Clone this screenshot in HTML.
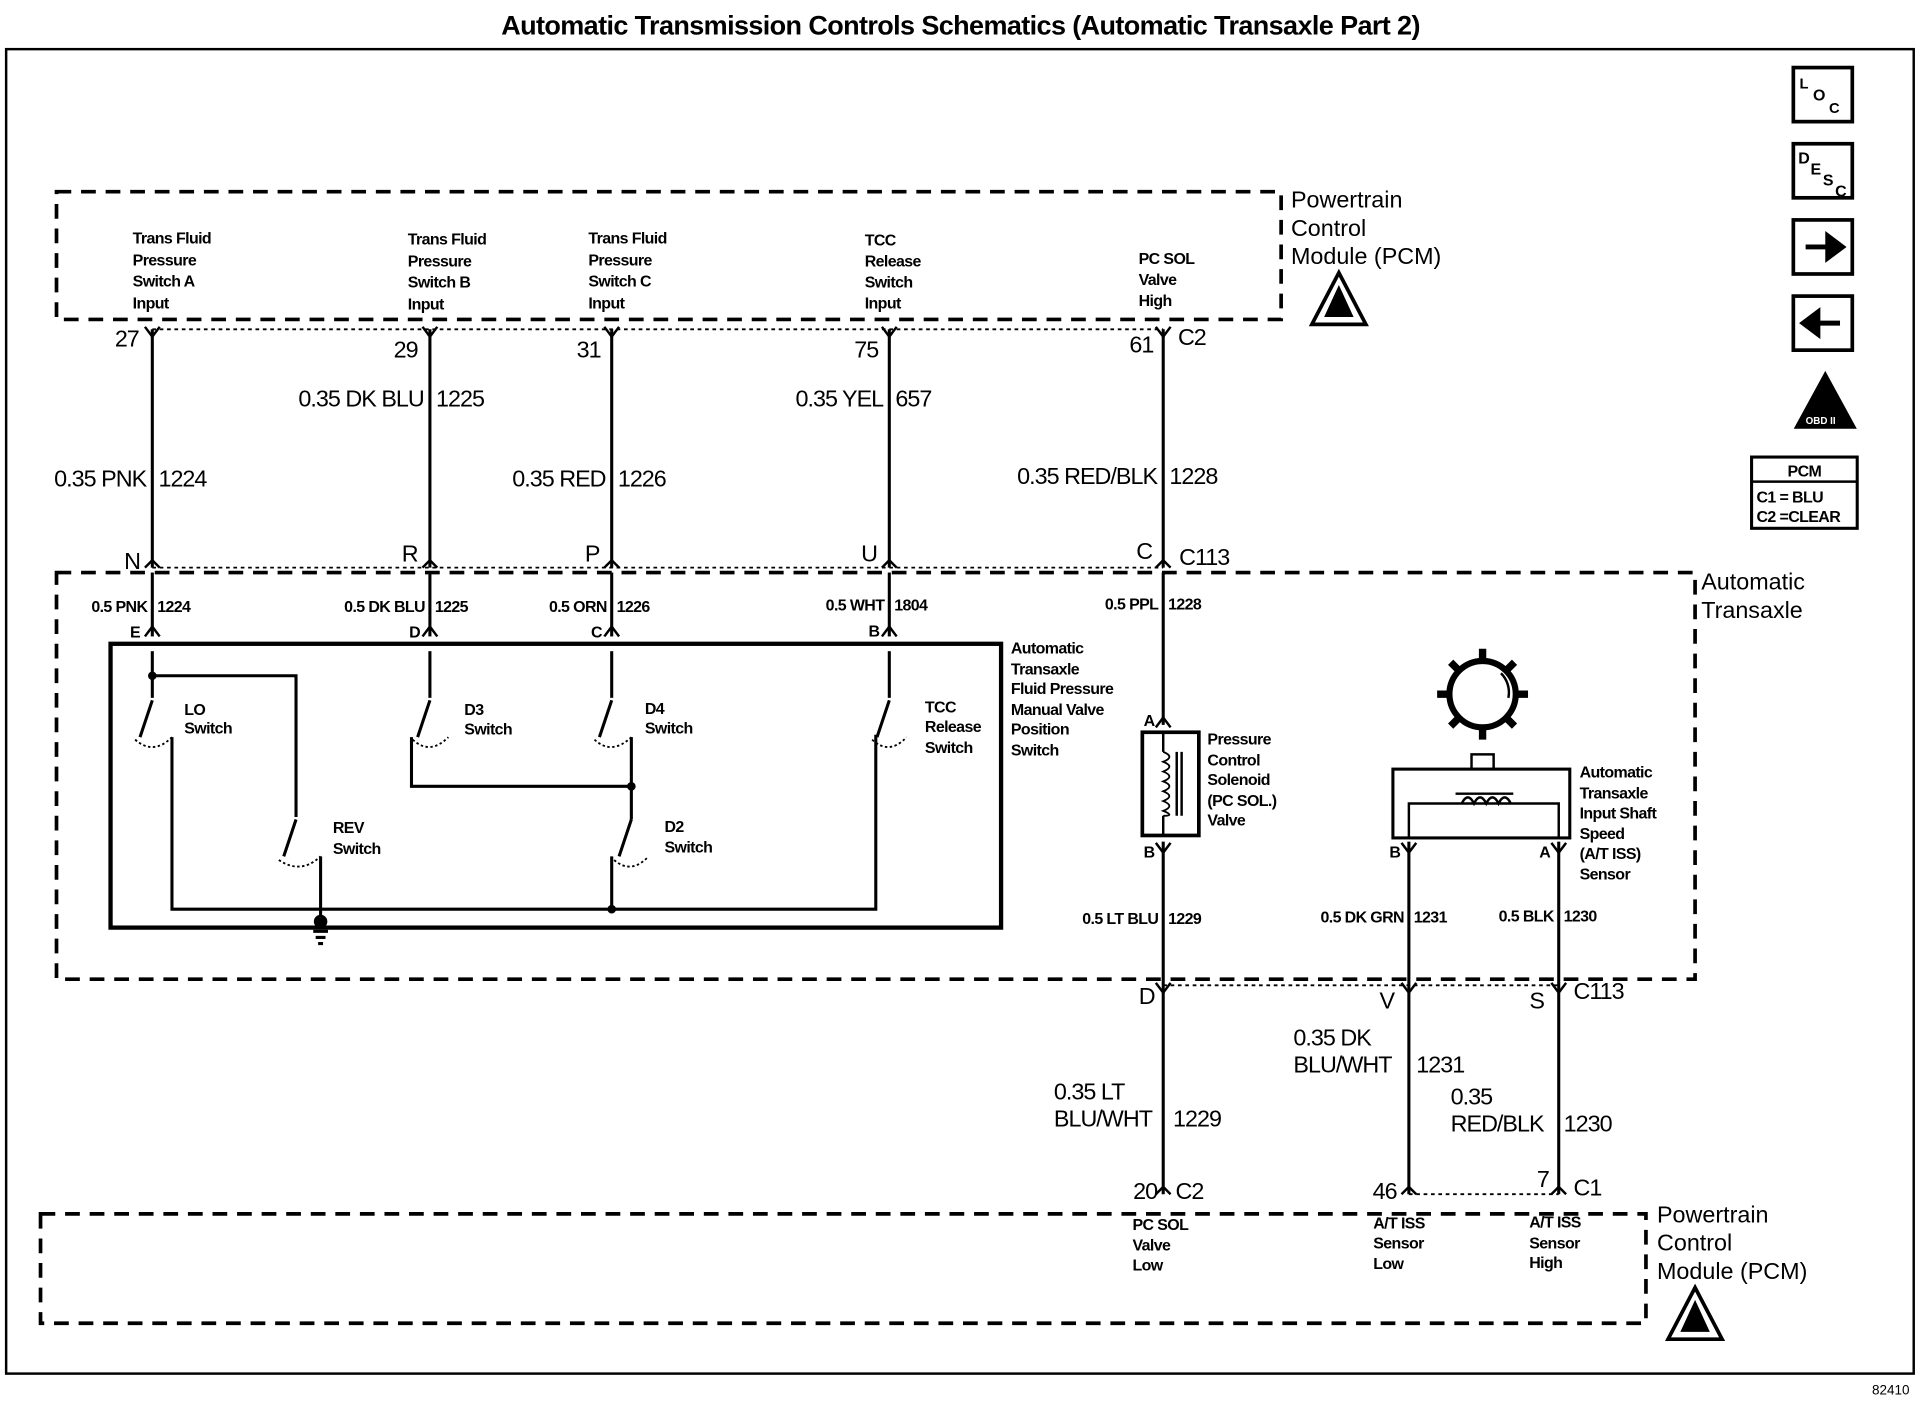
<!DOCTYPE html>
<html><head><meta charset="utf-8"><style>
html,body{margin:0;padding:0;background:#fff}
svg{display:block}
text{font-family:"Liberation Sans",sans-serif;fill:#000}
.s{font-size:13px;font-weight:bold;letter-spacing:-0.5px}
.m{font-size:19px;letter-spacing:-0.8px}
.l{font-size:19px}
</style></head><body>
<svg width="1926" height="1408" viewBox="0 0 1568 1146" preserveAspectRatio="none" xmlns="http://www.w3.org/2000/svg">
<g fill="none" stroke="#000">
<text x="782" y="28" text-anchor="middle" style="font-size:22px;font-weight:bold;letter-spacing:-0.5px" stroke="none">Automatic Transmission Controls Schematics (Automatic Transaxle Part 2)</text>
<rect x="5" y="40" width="1553" height="1078" stroke-width="2"/>
<rect x="46" y="156" width="997" height="104" stroke-width="3" stroke-dasharray="12,8"/>
<rect x="46" y="466" width="1334" height="331" stroke-width="3" stroke-dasharray="12,8"/>
<rect x="33" y="988" width="1307" height="89" stroke-width="3" stroke-dasharray="12,8"/>
<line x1="124" y1="268" x2="947" y2="268" stroke-dasharray="3,3" stroke-width="1.5"/>
<line x1="124" y1="462" x2="947" y2="462" stroke-dasharray="3,3" stroke-width="1.5"/>
<line x1="947" y1="802" x2="1269" y2="802" stroke-dasharray="3,3" stroke-width="1.5"/>
<line x1="1147" y1="972" x2="1269" y2="972" stroke-dasharray="3,3" stroke-width="1.5"/>
<g stroke-width="2.5">
<line x1="124" y1="268" x2="124" y2="462"/>
<line x1="350" y1="268" x2="350" y2="462"/>
<line x1="498" y1="268" x2="498" y2="462"/>
<line x1="724" y1="268" x2="724" y2="462"/>
<line x1="947" y1="268" x2="947" y2="462"/>
<line x1="124" y1="466" x2="124" y2="518"/>
<line x1="350" y1="466" x2="350" y2="518"/>
<line x1="498" y1="466" x2="498" y2="518"/>
<line x1="724" y1="466" x2="724" y2="518"/>
<line x1="947" y1="466" x2="947" y2="590"/>
<line x1="947" y1="685" x2="947" y2="972"/>
<line x1="1147" y1="685" x2="1147" y2="972"/>
<line x1="1269" y1="685" x2="1269" y2="972"/>
</g>
<g stroke-width="2">
<path d="M118 266 L124 274 L130 266 M344 266 L350 274 L356 266 M492 266 L498 274 L504 266 M718 266 L724 274 L730 266 M941 266 L947 274 L953 266"/>
<path d="M118 462 L124 456 L130 462 M344 462 L350 456 L356 462 M492 462 L498 456 L504 462 M718 462 L724 456 L730 462 M941 462 L947 456 L953 462"/>
<path d="M118 518 L124 510 L130 518 M344 518 L350 510 L356 518 M492 518 L498 510 L504 518 M718 518 L724 510 L730 518"/>
<path d="M941 592 L947 584 L953 592 M941 686 L947 694 L953 686 M1141 686 L1147 694 L1153 686 M1263 686 L1269 694 L1275 686"/>
<path d="M941 800 L947 808 L953 800 M1141 800 L1147 808 L1153 800 M1263 800 L1269 808 L1275 800"/>
<path d="M941 972 L947 966 L953 972 M1141 972 L1147 966 L1153 972 M1263 972 L1269 966 L1275 972"/>
</g>
<rect x="90" y="524" width="725" height="231" stroke-width="3.5"/>
<g stroke-width="2.5">
<line x1="124" y1="530" x2="124" y2="568"/><line x1="350" y1="530" x2="350" y2="568"/><line x1="498" y1="530" x2="498" y2="568"/><line x1="724" y1="530" x2="724" y2="568"/>
<path d="M124 550 H241 V665"/>
<path d="M124 570 L114 600 M350 570 L340 600 M498 570 L488 600 M724 570 L714 600 M241 667 L231 697 M514 667 L504 697"/>
<path d="M140 600 V740 H713 V598"/>
<path d="M335 600 V640 H514 V667 M514 600 V640"/>
<path d="M261 697 V755 M498 697 V740"/>
<path d="M255 758 H267 M257 763 H265 M259 768 H263"/>
<path d="M110 602 Q125 615 140 600 M336 602 Q350 615 365 600 M484 602 Q498 615 514 600 M710 602 Q724 615 738 600 M227 700 Q245 712 261 697 M500 700 Q514 712 528 697" stroke-width="1.5" stroke-dasharray="2,2"/>
</g>
<circle cx="261" cy="750" r="5" fill="#000"/>
<circle cx="124" cy="550" r="3" fill="#000"/>
<circle cx="514" cy="640" r="3" fill="#000"/>
<circle cx="498" cy="740" r="3" fill="#000"/>
<rect x="930" y="596" width="46" height="84" stroke-width="3"/>
<path d="M947 596 V612 M947 664 V680 M958 612 V664 M962 612 V664" stroke-width="2"/>
<path d="M947 612 q10 4 0 8 q10 4 0 8 q10 4 0 8 q10 4 0 8 q10 4 0 8 q10 4 0 8 q10 4 0 4" stroke-width="1.5"/>
<rect x="1134" y="626" width="144" height="56" stroke-width="2.5"/>
<rect x="1198" y="614" width="18" height="12" stroke-width="2"/>
<path d="M1147 682 V654 H1269 V682 M1185 646 H1232" stroke-width="2"/>
<path d="M1190 654 q5 -10 10 0 q5 -10 10 0 q5 -10 10 0 q5 -10 10 0" stroke-width="2"/>
<circle cx="1207" cy="565" r="27" stroke-width="5"/>
<path d="M1222 548 A22 22 0 0 1 1228 568" stroke-width="2"/>
<path d="M1207 528 V538 M1207 592 V602 M1170 565 H1180 M1234 565 H1244 M1181 539 L1188 546 M1226 584 L1233 591 M1181 591 L1188 584 M1233 539 L1226 546" stroke-width="6"/>
<path d="M1090 222 L1068 264 L1112 264 Z" stroke-width="3"/>
<path d="M1090 232 L1078 258 L1102 258 Z" fill="#000" stroke="none"/>
<path d="M1380 1048 L1358 1090 L1402 1090 Z" stroke-width="3"/>
<path d="M1380 1058 L1368 1084 L1392 1084 Z" fill="#000" stroke="none"/>
<rect x="1460" y="55" width="48" height="44" stroke-width="3"/>
<rect x="1460" y="117" width="48" height="44" stroke-width="3"/>
<rect x="1460" y="179" width="48" height="44" stroke-width="3"/>
<rect x="1460" y="241" width="48" height="44" stroke-width="3"/>
<path d="M1470 201 H1488 V192 L1500 201 L1488 210 V201" fill="#000" stroke-width="4"/>
<path d="M1498 263 H1480 V254 L1468 263 L1480 272 V263" fill="#000" stroke-width="4"/>
<path d="M1486 304 L1462 348 L1510 348 Z" fill="#000" stroke-width="2"/>
<rect x="1426" y="372" width="86" height="58" stroke-width="2.5"/>
<line x1="1426" y1="392" x2="1512" y2="392" stroke-width="2"/>
</g>
<g stroke="none">
<text x="1465" y="72" class="s" style="font-size:12px">L</text><text x="1476" y="82" class="s" style="font-size:13px">O</text><text x="1489" y="92" class="s" style="font-size:12px">C</text>
<text x="1464" y="133" class="s">D</text><text x="1474" y="142" class="s">E</text><text x="1484" y="151" class="s">S</text><text x="1494" y="160" class="s">C</text>
<text x="1470" y="345" style="font-size:8px;font-weight:bold;fill:#fff">OBD II</text>
<text x="1469" y="388" class="s" text-anchor="middle">PCM</text>
<text x="1430" y="409" class="s">C1 = BLU</text>
<text x="1430" y="425" class="s">C2 =CLEAR</text>
<text x="1524" y="1135" style="font-size:11px">82410</text>

<text class="s"><tspan x="108" y="198">Trans Fluid</tspan><tspan x="108" y="216">Pressure</tspan><tspan x="108" y="233">Switch A</tspan><tspan x="108" y="251">Input</tspan></text>
<text class="s"><tspan x="332" y="199">Trans Fluid</tspan><tspan x="332" y="217">Pressure</tspan><tspan x="332" y="234">Switch B</tspan><tspan x="332" y="252">Input</tspan></text>
<text class="s"><tspan x="479" y="198">Trans Fluid</tspan><tspan x="479" y="216">Pressure</tspan><tspan x="479" y="233">Switch C</tspan><tspan x="479" y="251">Input</tspan></text>
<text class="s"><tspan x="704" y="200">TCC</tspan><tspan x="704" y="217">Release</tspan><tspan x="704" y="234">Switch</tspan><tspan x="704" y="251">Input</tspan></text>
<text class="s"><tspan x="927" y="215">PC SOL</tspan><tspan x="927" y="232">Valve</tspan><tspan x="927" y="249">High</tspan></text>
<text class="l"><tspan x="1051" y="169">Powertrain</tspan><tspan x="1051" y="192">Control</tspan><tspan x="1051" y="215">Module (PCM)</tspan></text>
<text class="l"><tspan x="1385" y="480">Automatic</tspan><tspan x="1385" y="503">Transaxle</tspan></text>
<text class="l"><tspan x="1349" y="995">Powertrain</tspan><tspan x="1349" y="1018">Control</tspan><tspan x="1349" y="1041">Module (PCM)</tspan></text>

<text class="m" x="113" y="282" text-anchor="end">27</text>
<text class="m" x="340" y="291" text-anchor="end">29</text>
<text class="m" x="489" y="291" text-anchor="end">31</text>
<text class="m" x="715" y="291" text-anchor="end">75</text>
<text class="m" x="939" y="287" text-anchor="end">61</text>
<text class="m" x="959" y="281">C2</text>
<text class="m" x="345" y="331" text-anchor="end">0.35 DK BLU</text><text class="m" x="355" y="331">1225</text>
<text class="m" x="719" y="331" text-anchor="end">0.35 YEL</text><text class="m" x="729" y="331">657</text>
<text class="m" x="119" y="396" text-anchor="end">0.35 PNK</text><text class="m" x="129" y="396">1224</text>
<text class="m" x="493" y="396" text-anchor="end">0.35 RED</text><text class="m" x="503" y="396">1226</text>
<text class="m" x="942" y="394" text-anchor="end">0.35 RED/BLK</text><text class="m" x="952" y="394">1228</text>
<text class="m" x="114" y="463" text-anchor="end">N</text>
<text class="m" x="340" y="457" text-anchor="end">R</text>
<text class="m" x="488" y="457" text-anchor="end">P</text>
<text class="m" x="714" y="457" text-anchor="end">U</text>
<text class="m" x="938" y="455" text-anchor="end">C</text>
<text class="m" x="960" y="460">C113</text>

<text class="s" x="120" y="498" text-anchor="end">0.5 PNK</text><text class="s" x="128" y="498">1224</text>
<text class="s" x="346" y="498" text-anchor="end">0.5 DK BLU</text><text class="s" x="354" y="498">1225</text>
<text class="s" x="494" y="498" text-anchor="end">0.5 ORN</text><text class="s" x="502" y="498">1226</text>
<text class="s" x="720" y="497" text-anchor="end">0.5 WHT</text><text class="s" x="728" y="497">1804</text>
<text class="s" x="943" y="496" text-anchor="end">0.5 PPL</text><text class="s" x="951" y="496">1228</text>
<text class="s" x="114" y="519" text-anchor="end">E</text>
<text class="s" x="342" y="519" text-anchor="end">D</text>
<text class="s" x="490" y="519" text-anchor="end">C</text>
<text class="s" x="716" y="518" text-anchor="end">B</text>
<text class="s" x="940" y="591" text-anchor="end">A</text>
<text class="s" x="940" y="698" text-anchor="end">B</text>
<text class="s" x="1140" y="698" text-anchor="end">B</text>
<text class="s" x="1262" y="698" text-anchor="end">A</text>

<text class="s"><tspan x="150" y="582">LO</tspan><tspan x="150" y="597">Switch</tspan></text>
<text class="s"><tspan x="378" y="582">D3</tspan><tspan x="378" y="598">Switch</tspan></text>
<text class="s"><tspan x="525" y="581">D4</tspan><tspan x="525" y="597">Switch</tspan></text>
<text class="s"><tspan x="753" y="580">TCC</tspan><tspan x="753" y="596">Release</tspan><tspan x="753" y="613">Switch</tspan></text>
<text class="s"><tspan x="271" y="678">REV</tspan><tspan x="271" y="695">Switch</tspan></text>
<text class="s"><tspan x="541" y="677">D2</tspan><tspan x="541" y="694">Switch</tspan></text>
<text class="s"><tspan x="823" y="532">Automatic</tspan><tspan x="823" y="549">Transaxle</tspan><tspan x="823" y="565">Fluid Pressure</tspan><tspan x="823" y="582">Manual Valve</tspan><tspan x="823" y="598">Position</tspan><tspan x="823" y="615">Switch</tspan></text>
<text class="s"><tspan x="983" y="606">Pressure</tspan><tspan x="983" y="623">Control</tspan><tspan x="983" y="639">Solenoid</tspan><tspan x="983" y="656">(PC SOL.)</tspan><tspan x="983" y="672">Valve</tspan></text>
<text class="s"><tspan x="1286" y="633">Automatic</tspan><tspan x="1286" y="650">Transaxle</tspan><tspan x="1286" y="666">Input Shaft</tspan><tspan x="1286" y="683">Speed</tspan><tspan x="1286" y="699">(A/T ISS)</tspan><tspan x="1286" y="716">Sensor</tspan></text>
<text class="s" x="943" y="752" text-anchor="end">0.5 LT BLU</text><text class="s" x="951" y="752">1229</text>
<text class="s" x="1143" y="751" text-anchor="end">0.5 DK GRN</text><text class="s" x="1151" y="751">1231</text>
<text class="s" x="1265" y="750" text-anchor="end">0.5 BLK</text><text class="s" x="1273" y="750">1230</text>

<text class="m" x="940" y="817" text-anchor="end">D</text>
<text class="m" x="1135" y="821" text-anchor="end">V</text>
<text class="m" x="1257" y="821" text-anchor="end">S</text>
<text class="m" x="1281" y="813">C113</text>
<text class="m"><tspan x="1053" y="851">0.35 DK</tspan><tspan x="1053" y="873">BLU/WHT</tspan></text><text class="m" x="1153" y="873">1231</text>
<text class="m"><tspan x="858" y="895">0.35 LT</tspan><tspan x="858" y="917">BLU/WHT</tspan></text><text class="m" x="955" y="917">1229</text>
<text class="m"><tspan x="1181" y="899">0.35</tspan><tspan x="1181" y="921">RED/BLK</tspan></text><text class="m" x="1273" y="921">1230</text>
<text class="m" x="942" y="976" text-anchor="end">20</text><text class="m" x="957" y="976">C2</text>
<text class="m" x="1137" y="976" text-anchor="end">46</text>
<text class="m" x="1261" y="966" text-anchor="end">7</text><text class="m" x="1281" y="973">C1</text>
<text class="s"><tspan x="922" y="1001">PC SOL</tspan><tspan x="922" y="1018">Valve</tspan><tspan x="922" y="1034">Low</tspan></text>
<text class="s"><tspan x="1118" y="1000">A/T ISS</tspan><tspan x="1118" y="1016">Sensor</tspan><tspan x="1118" y="1033">Low</tspan></text>
<text class="s"><tspan x="1245" y="999">A/T ISS</tspan><tspan x="1245" y="1016">Sensor</tspan><tspan x="1245" y="1032">High</tspan></text>
</g>
</svg>
</body></html>
